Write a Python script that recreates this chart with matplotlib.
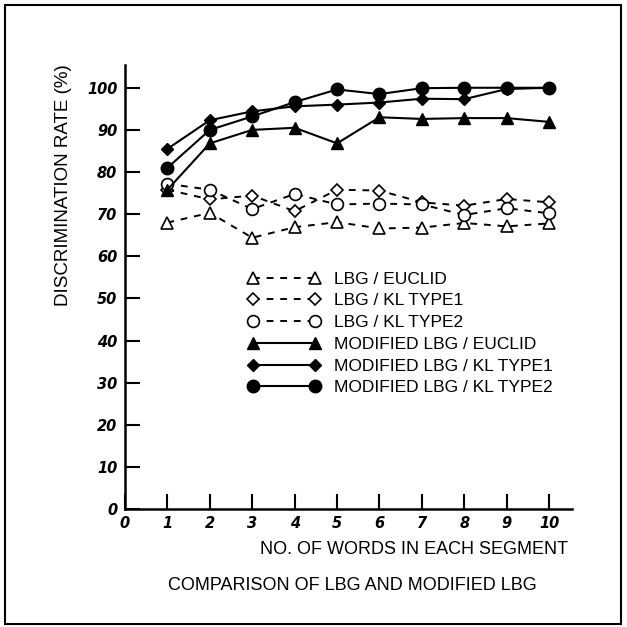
import matplotlib.pyplot as plt
from matplotlib.patches import Rectangle

plt.rcParams['font.family'] = ['Liberation Sans', 'DejaVu Sans']

# data
words = [1, 2, 3, 4, 5, 6, 7, 8, 9, 10]
lbg_euclid = [68.0, 70.3, 64.4, 66.9, 68.1, 66.6, 66.8, 67.9, 67.1, 67.8]
lbg_kl1 = [75.8, 73.5, 74.4, 70.7, 75.8, 75.6, 72.8, 72.0, 73.6, 72.8]
lbg_kl2 = [77.2, 75.8, 71.2, 74.8, 72.3, 72.5, 72.3, 69.8, 71.4, 70.2]
mod_euclid = [75.8, 86.8, 90.0, 90.5, 86.8, 93.0, 92.6, 92.8, 92.8, 91.9]
mod_kl1 = [85.5, 92.3, 94.4, 95.6, 96.0, 96.5, 97.4, 97.3, 99.7, 100.0]
mod_kl2 = [81.0, 90.0, 93.2, 96.6, 99.6, 98.5, 99.9, 100.0, 100.0, 100.0]

labels = ['LBG / EUCLID', 'LBG / KL TYPE1', 'LBG / KL TYPE2',
          'MODIFIED LBG / EUCLID', 'MODIFIED LBG / KL TYPE1', 'MODIFIED LBG / KL TYPE2']
xticks = list(range(0, 11))
yticks = list(range(0, 101, 10))

fig = plt.figure(figsize=(6.27, 6.27), dpi=100)
ax = fig.add_axes([0.1994, 0.1882, 0.7129, 0.7081])

dash = (3.5, 3.5)
ax.plot(words, lbg_euclid, color='black', lw=1.4, dashes=dash, marker='^', ms=8.5,
        mfc='white', mec='black', mew=1.2, label=labels[0])
ax.plot(words, lbg_kl1, color='black', lw=1.4, dashes=dash, marker='D', ms=6.5,
        mfc='white', mec='black', mew=1.2, label=labels[1])
ax.plot(words, lbg_kl2, color='black', lw=1.4, dashes=dash, marker='o', ms=8.5,
        mfc='white', mec='black', mew=1.2, label=labels[2])
ax.plot(words, mod_euclid, color='black', lw=1.5, ls='-', marker='^', ms=8.5,
        mfc='black', mec='black', label=labels[3])
ax.plot(words, mod_kl1, color='black', lw=1.5, ls='-', marker='D', ms=6.5,
        mfc='black', mec='black', label=labels[4])
ax.plot(words, mod_kl2, color='black', lw=1.5, ls='-', marker='o', ms=9,
        mfc='black', mec='black', label=labels[5])

ax.set_xlim(0, 10.54)
ax.set_ylim(0, 105.4)
ax.set_xticks(xticks)
ax.set_yticks(yticks)
# bold oblique digits (DejaVu ships a bold oblique face)
tick_font = dict(family='DejaVu Sans', size=10.5, weight='bold', style='oblique')
ax.set_xticklabels([str(t) for t in xticks], fontdict=tick_font)
ax.set_yticklabels([str(t) for t in yticks], fontdict=tick_font)
ax.tick_params(axis='x', direction='in', length=10.5, width=1.5, pad=5)
ax.tick_params(axis='y', direction='in', length=10.5, width=1.5, pad=5.5)

for side in ['top', 'right']:
    ax.spines[side].set_visible(False)
for side in ['left', 'bottom']:
    ax.spines[side].set_linewidth(1.8)

ax.legend(loc='upper left', bbox_to_anchor=(0.274, 0.535), frameon=False,
          fontsize=12.5, numpoints=2, handlelength=4.16, handletextpad=0.84,
          labelspacing=0.38, borderpad=0, borderaxespad=0)

# axis titles and caption
fig.text(63 / 627, 1 - 185 / 627, 'DISCRIMINATION RATE (%)', rotation=90,
         ha='center', va='center', fontsize=13.5)
fig.text(568 / 627, 1 - 550 / 627, 'NO. OF WORDS IN EACH SEGMENT',
         ha='right', va='center', fontsize=13)
fig.text(352 / 627, 1 - 585 / 627, 'COMPARISON OF LBG AND MODIFIED LBG',
         ha='center', va='center', fontsize=13)

# outer frame
fig.patches.append(Rectangle((5 / 627, 3 / 627), 616 / 627, 619 / 627,
                             transform=fig.transFigure, fill=False,
                             edgecolor='black', lw=1.5))

fig.savefig('out.png', dpi=100)
